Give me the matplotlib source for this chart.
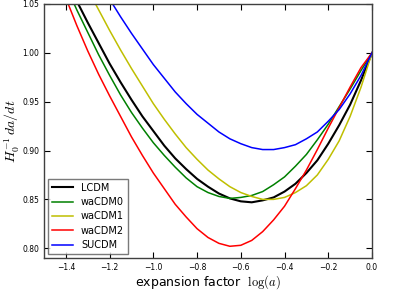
import matplotlib
matplotlib.use("Agg")
import matplotlib.pyplot as plt

# ── Data ─────────────────────────────────────────────────────────────────────
log_a = [-1.40, -1.35, -1.30, -1.25, -1.20, -1.15, -1.10, -1.05, -1.00,
         -0.95, -0.90, -0.85, -0.80, -0.75, -0.70, -0.65, -0.60, -0.55,
         -0.50, -0.45, -0.40, -0.35, -0.30, -0.25, -0.20, -0.15, -0.10,
         -0.05, 0.00]

lcdm    = [1.077, 1.053, 1.031, 1.010, 0.989, 0.970, 0.952, 0.935, 0.920,
           0.905, 0.892, 0.881, 0.871, 0.863, 0.856, 0.851, 0.848, 0.847,
           0.849, 0.852, 0.858, 0.866, 0.877, 0.890, 0.907, 0.926, 0.947,
           0.972, 1.000]
wacdm0  = [1.069, 1.044, 1.021, 0.998, 0.977, 0.957, 0.939, 0.923, 0.908,
           0.895, 0.883, 0.872, 0.863, 0.857, 0.853, 0.851, 0.852, 0.854,
           0.858, 0.865, 0.873, 0.884, 0.896, 0.911, 0.927, 0.945, 0.963,
           0.982, 1.000]
wacdm1  = [1.109, 1.087, 1.065, 1.044, 1.023, 1.003, 0.984, 0.966, 0.948,
           0.932, 0.917, 0.903, 0.891, 0.880, 0.871, 0.863, 0.857, 0.853,
           0.850, 0.850, 0.852, 0.857, 0.864, 0.875, 0.891, 0.910, 0.935,
           0.965, 1.000]
wacdm2  = [1.056, 1.028, 1.002, 0.978, 0.956, 0.935, 0.914, 0.895, 0.877,
           0.861, 0.845, 0.832, 0.820, 0.811, 0.805, 0.802, 0.803, 0.808,
           0.817, 0.829, 0.843, 0.861, 0.880, 0.901, 0.923, 0.944, 0.965,
           0.985, 1.000]
sucdm   = [1.133, 1.113, 1.093, 1.074, 1.055, 1.037, 1.020, 1.004, 0.988,
           0.974, 0.960, 0.948, 0.937, 0.928, 0.919, 0.912, 0.907, 0.903,
           0.901, 0.901, 0.903, 0.906, 0.912, 0.919, 0.930, 0.942, 0.958,
           0.977, 1.000]

models = ["LCDM", "waCDM0", "waCDM1", "waCDM2", "SUCDM"]
colors = ["k", "g", "y", "r", "b"]
series = [lcdm, wacdm0, wacdm1, wacdm2, sucdm]

x_ticks = [-1.4, -1.2, -1.0, -0.8, -0.6, -0.4, -0.2, 0.0]
y_ticks = [0.80, 0.85, 0.90, 0.95, 1.00, 1.05]

# ── Style ────────────────────────────────────────────────────────────────────
plt.rcParams.update({
    "mathtext.fontset": "cm",
    "xtick.direction":  "in",
    "ytick.direction":  "in",
    "xtick.top":        True,
    "ytick.right":      True,
    "xtick.labelsize":  5.5,
    "ytick.labelsize":  5.5,
    "xtick.major.size": 4,
    "ytick.major.size": 4,
    "axes.linewidth":   1.0,
})

fig = plt.figure(figsize=(4.15, 2.91), dpi=100, facecolor="white")
ax = fig.add_axes([0.106, 0.1134, 0.7904, 0.8729])

for name, col, vals in zip(models, colors, series):
    ax.plot(log_a, vals, color=col, lw=1.5 if col == "k" else 1.1, label=name)

ax.set_xlim(-1.5, 0.0)
ax.set_ylim(0.79, 1.05)
ax.set_xticks(x_ticks)
ax.set_yticks(y_ticks)
ax.set_xticklabels([f"{t:.1f}".replace("-", "\u2212") for t in x_ticks])
ax.set_yticklabels([f"{t:.2f}" for t in y_ticks])
for sp in ax.spines.values():
    sp.set_color("0.25")

ax.set_xlabel(r"expansion factor  $\log(a)$", fontsize=9, labelpad=1)
ax.set_ylabel(r"$H_0^{-1}\,da/dt$", fontsize=10)
ax.yaxis.set_label_coords(-0.066, 0.5)

leg = ax.legend(loc="lower left", fontsize=7, frameon=True, fancybox=False,
                borderaxespad=0.4, handlelength=2.2, labelspacing=0.45)
leg.get_frame().set_edgecolor("0.35")
leg.get_frame().set_linewidth(1.0)

fig.savefig("out.png", dpi=100, facecolor="white")
